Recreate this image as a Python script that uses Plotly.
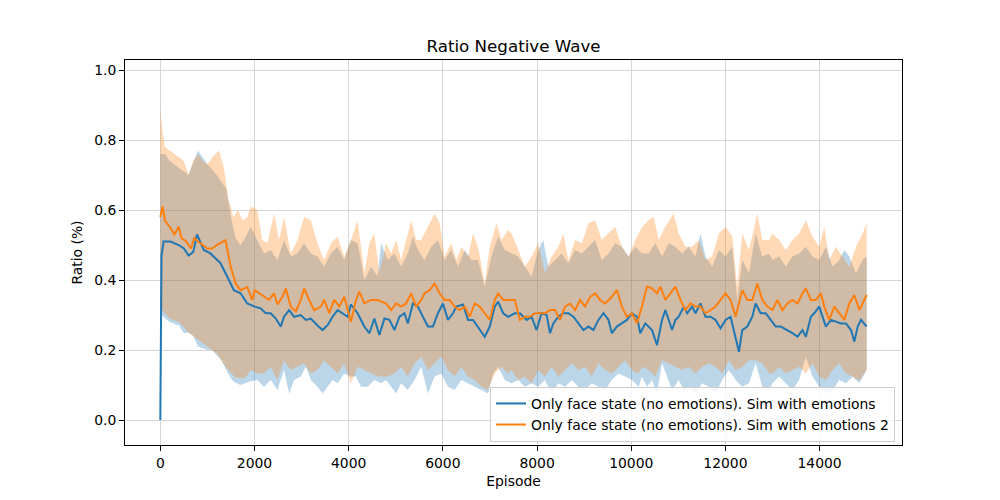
import plotly.graph_objects as go

# Values (episode, ratio)
BLUE_EP = [0, 10, 25, 70, 213, 390, 500, 600, 700, 780, 923, 1065, 1278, 1420, 1562, 1704, 1846,
           2003, 2131, 2238, 2344, 2451, 2557, 2628, 2735, 2841, 2983, 3090, 3196, 3338, 3445, 3551,
           3658, 3764, 3870, 3977, 4048, 4190, 4332, 4439, 4545, 4652, 4759, 4866, 4972, 5079, 5185,
           5256, 5363, 5469, 5576, 5682, 5789, 5895, 6002, 6108, 6215, 6286, 6428, 6534, 6641, 6747,
           6889, 6996, 7102, 7173, 7280, 7386, 7528, 7635, 7778, 7884, 7990, 8097, 8204, 8275, 8346,
           8452, 8559, 8665, 8772, 8878, 8985, 9091, 9198, 9304, 9411, 9517, 9588, 9695, 9801, 9908,
           10014, 10121, 10192, 10298, 10441, 10548, 10654, 10725, 10796, 10867, 10938, 11009, 11116,
           11187, 11293, 11364, 11471, 11577, 11684, 11790, 11897, 12003, 12110, 12216, 12287, 12358,
           12465, 12571, 12642, 12749, 12855, 12962, 13068, 13175, 13318, 13424, 13531, 13637, 13708,
           13815, 13886, 13992, 14063, 14134, 14241, 14347, 14454, 14560, 14667, 14738, 14809, 14880,
           15000]
BLUE_MEAN = [0.0, 0.36, 0.47, 0.51, 0.51, 0.50, 0.49, 0.47, 0.48, 0.53, 0.486, 0.476, 0.448, 0.41,
             0.371, 0.362, 0.333, 0.324, 0.319, 0.305, 0.305, 0.29, 0.267, 0.295, 0.314, 0.295, 0.30,
             0.286, 0.29, 0.27, 0.257, 0.271, 0.295, 0.314, 0.305, 0.295, 0.33, 0.305, 0.267, 0.248,
             0.29, 0.243, 0.29, 0.286, 0.257, 0.295, 0.305, 0.276, 0.333, 0.324, 0.295, 0.267, 0.267,
             0.305, 0.333, 0.286, 0.305, 0.324, 0.33, 0.286, 0.286, 0.267, 0.238, 0.267, 0.324, 0.338,
             0.305, 0.295, 0.305, 0.305, 0.286, 0.295, 0.257, 0.305, 0.30, 0.248, 0.276, 0.295, 0.305,
             0.305, 0.295, 0.276, 0.257, 0.267, 0.257, 0.286, 0.305, 0.286, 0.248, 0.267, 0.276, 0.286,
             0.305, 0.295, 0.248, 0.276, 0.257, 0.214, 0.286, 0.314, 0.286, 0.257, 0.286, 0.295, 0.324,
             0.305, 0.324, 0.305, 0.333, 0.295, 0.295, 0.286, 0.262, 0.286, 0.295, 0.238, 0.195, 0.257,
             0.267, 0.295, 0.333, 0.305, 0.305, 0.286, 0.267, 0.267, 0.257, 0.248, 0.238, 0.257, 0.238,
             0.295, 0.305, 0.324, 0.295, 0.267, 0.286, 0.281, 0.276, 0.276, 0.257, 0.224, 0.267, 0.286,
             0.267]

ORANGE_EP = [0, 50, 100, 200, 300, 390, 450, 550, 650, 720, 800, 900, 1000, 1100, 1200, 1385, 1490,
             1600, 1704, 1846, 1950, 2003, 2096, 2202, 2309, 2415, 2486, 2593, 2664, 2770, 2877, 2983,
             3054, 3161, 3267, 3409, 3480, 3587, 3693, 3800, 3906, 4048, 4155, 4226, 4332, 4474, 4616,
             4795, 4901, 5008, 5114, 5221, 5327, 5434, 5540, 5611, 5718, 5824, 5930, 6037, 6144, 6250,
             6357, 6463, 6570, 6676, 6783, 6889, 6996, 7102, 7173, 7280, 7422, 7528, 7636, 7742, 7849,
             7955, 8062, 8168, 8275, 8381, 8488, 8594, 8701, 8807, 8914, 9020, 9127, 9233, 9340, 9446,
             9588, 9695, 9801, 9908, 10014, 10121, 10227, 10334, 10441, 10548, 10619, 10725, 10831,
             10938, 11045, 11151, 11258, 11364, 11471, 11577, 11684, 11790, 11897, 12003, 12110, 12216,
             12287, 12358, 12465, 12571, 12678, 12784, 12891, 12997, 13104, 13211, 13318, 13424, 13531,
             13637, 13708, 13815, 13921, 14028, 14099, 14205, 14312, 14418, 14525, 14631, 14738, 14844,
             14951, 15000]
ORANGE_MEAN = [0.58, 0.61, 0.57, 0.552, 0.53, 0.552, 0.52, 0.51, 0.49, 0.52, 0.51, 0.50, 0.49, 0.49,
               0.50, 0.514, 0.44, 0.39, 0.371, 0.38, 0.343, 0.371, 0.362, 0.352, 0.343, 0.362, 0.33,
               0.352, 0.376, 0.324, 0.31, 0.343, 0.376, 0.343, 0.314, 0.324, 0.343, 0.305, 0.343, 0.324,
               0.352, 0.281, 0.343, 0.367, 0.333, 0.343, 0.343, 0.333, 0.314, 0.333, 0.324, 0.333, 0.362,
               0.324, 0.343, 0.362, 0.371, 0.39, 0.362, 0.343, 0.343, 0.324, 0.314, 0.324, 0.295, 0.333,
               0.324, 0.305, 0.286, 0.343, 0.362, 0.343, 0.343, 0.343, 0.286, 0.295, 0.295, 0.305, 0.305,
               0.305, 0.314, 0.314, 0.286, 0.324, 0.333, 0.314, 0.343, 0.324, 0.352, 0.362, 0.343, 0.333,
               0.352, 0.371, 0.324, 0.295, 0.305, 0.276, 0.324, 0.381, 0.376, 0.362, 0.381, 0.343, 0.362,
               0.381, 0.343, 0.314, 0.333, 0.324, 0.324, 0.305, 0.314, 0.324, 0.343, 0.362, 0.343, 0.295,
               0.333, 0.371, 0.343, 0.343, 0.39, 0.343, 0.324, 0.314, 0.343, 0.314, 0.333, 0.343, 0.333,
               0.362, 0.376, 0.343, 0.343, 0.362, 0.324, 0.286, 0.324, 0.305, 0.286, 0.333, 0.357, 0.314,
               0.343, 0.357]

# Shaded spread bands
BLUE_UP_EP = [0, 100, 200, 400, 600, 800, 1000, 1200, 1400, 1500, 1600, 1700, 1800, 1918, 2060, 2202,
              2344, 2486, 2628, 2770, 2912, 3054, 3196, 3338, 3480, 3622, 3764, 3906, 4048, 4190, 4332,
              4474, 4616, 4688, 4830, 4972, 5114, 5256, 5363, 5469, 5611, 5753, 5895, 6037, 6179, 6321,
              6463, 6605, 6747, 6889, 7031, 7173, 7315, 7457, 7600, 7742, 7884, 8026, 8133, 8239, 8381,
              8523, 8665, 8807, 8949, 9091, 9233, 9375, 9517, 9659, 9801, 9943, 10085, 10227, 10370,
              10512, 10654, 10796, 10938, 11080, 11222, 11364, 11471, 11577, 11719, 11861, 12003, 12145,
              12252, 12358, 12500, 12642, 12784, 12926, 12998, 13140, 13282, 13424, 13566, 13708, 13850,
              13992, 14134, 14276, 14418, 14525, 14631, 14773, 14915, 15000]
BLUE_UPPER = [0.76, 0.76, 0.74, 0.72, 0.70, 0.77, 0.73, 0.70, 0.66, 0.58, 0.52, 0.50, 0.52, 0.552,
              0.514, 0.476, 0.486, 0.457, 0.514, 0.467, 0.476, 0.505, 0.476, 0.467, 0.438, 0.476, 0.495,
              0.457, 0.514, 0.505, 0.40, 0.438, 0.41, 0.505, 0.457, 0.476, 0.438, 0.476, 0.524, 0.486,
              0.457, 0.495, 0.514, 0.457, 0.486, 0.438, 0.486, 0.457, 0.457, 0.381, 0.467, 0.524, 0.486,
              0.476, 0.467, 0.438, 0.41, 0.486, 0.514, 0.438, 0.457, 0.476, 0.448, 0.486, 0.476, 0.495,
              0.514, 0.457, 0.476, 0.505, 0.495, 0.467, 0.495, 0.476, 0.476, 0.505, 0.467, 0.505, 0.495,
              0.476, 0.495, 0.467, 0.533, 0.467, 0.438, 0.486, 0.467, 0.495, 0.343, 0.457, 0.419, 0.533,
              0.467, 0.476, 0.457, 0.467, 0.438, 0.467, 0.476, 0.495, 0.467, 0.457, 0.495, 0.438, 0.457,
              0.486, 0.467, 0.419, 0.457, 0.467]

BLUE_LO_EP = [0, 100, 200, 400, 500, 600, 700, 800, 1000, 1100, 1300, 1450, 1550, 1700, 1900, 2060,
              2202, 2344, 2486, 2628, 2735, 2841, 2983, 3090, 3196, 3338, 3445, 3551, 3658, 3764, 3906,
              4048, 4155, 4261, 4403, 4545, 4687, 4795, 4901, 5008, 5114, 5256, 5398, 5540, 5682, 5824,
              5966, 6108, 6250, 6392, 6534, 6676, 6818, 6960, 7067, 7173, 7315, 7457, 7600, 7742, 7884,
              8026, 8168, 8310, 8452, 8594, 8736, 8878, 9020, 9162, 9304, 9446, 9588, 9730, 9872, 10014,
              10156, 10228, 10335, 10441, 10548, 10654, 10761, 10867, 11009, 11116, 11222, 11364, 11506,
              11648, 11790, 11932, 12074, 12216, 12358, 12500, 12642, 12784, 12926, 12998, 13140, 13282,
              13424, 13566, 13708, 13850, 13992, 14134, 14276, 14418, 14560, 14702, 14844, 15000]
BLUE_LOWER = [0.305, 0.29, 0.28, 0.27, 0.248, 0.25, 0.24, 0.21, 0.20, 0.20, 0.17, 0.13, 0.11, 0.10,
              0.11, 0.114, 0.095, 0.114, 0.086, 0.143, 0.076, 0.114, 0.124, 0.152, 0.114, 0.095, 0.076,
              0.095, 0.114, 0.105, 0.133, 0.124, 0.124, 0.095, 0.095, 0.114, 0.105, 0.114, 0.095, 0.076,
              0.105, 0.086, 0.114, 0.152, 0.076, 0.124, 0.133, 0.095, 0.086, 0.114, 0.105, 0.095, 0.086,
              0.076, 0.133, 0.152, 0.114, 0.105, 0.114, 0.095, 0.105, 0.095, 0.114, 0.076, 0.105, 0.095,
              0.114, 0.095, 0.086, 0.105, 0.095, 0.086, 0.114, 0.133, 0.124, 0.114, 0.095, 0.124, 0.095,
              0.114, 0.076, 0.162, 0.124, 0.086, 0.114, 0.086, 0.095, 0.076, 0.105, 0.095, 0.076, 0.114,
              0.143, 0.114, 0.095, 0.105, 0.162, 0.095, 0.086, 0.105, 0.124, 0.105, 0.086, 0.114, 0.181,
              0.124, 0.095, 0.076, 0.086, 0.114, 0.105, 0.124, 0.105, 0.143]

ORANGE_UP_EP = [0, 50, 100, 200, 300, 400, 500, 600, 700, 800, 900, 1000, 1100, 1250, 1350, 1450,
                1550, 1650, 1750, 1850, 1918, 2060, 2167, 2273, 2415, 2522, 2628, 2770, 2912, 3054, 3196,
                3338, 3480, 3622, 3764, 3906, 4048, 4190, 4332, 4439, 4545, 4652, 4795, 4901, 5008, 5114,
                5221, 5327, 5434, 5540, 5682, 5824, 5931, 6037, 6179, 6286, 6392, 6534, 6641, 6747, 6889,
                6996, 7138, 7244, 7386, 7458, 7600, 7742, 7884, 8026, 8168, 8310, 8452, 8559, 8665, 8807,
                8949, 9091, 9233, 9375, 9517, 9659, 9801, 9943, 10085, 10227, 10370, 10477, 10583, 10725,
                10903, 11009, 11151, 11293, 11435, 11577, 11719, 11861, 12003, 12145, 12252, 12358, 12500,
                12678, 12784, 12926, 12998, 13140, 13282, 13424, 13566, 13708, 13850, 13992, 14099, 14205,
                14347, 14489, 14631, 14773, 14915, 15000]
ORANGE_UPPER = [0.89, 0.82, 0.78, 0.77, 0.76, 0.75, 0.74, 0.70, 0.74, 0.76, 0.74, 0.73, 0.75, 0.77,
                0.72, 0.63, 0.58, 0.60, 0.57, 0.58, 0.61, 0.60, 0.514, 0.505, 0.59, 0.514, 0.581, 0.476,
                0.514, 0.581, 0.571, 0.505, 0.457, 0.505, 0.524, 0.467, 0.514, 0.571, 0.419, 0.505, 0.533,
                0.419, 0.505, 0.476, 0.514, 0.457, 0.514, 0.571, 0.514, 0.514, 0.552, 0.59, 0.562, 0.467,
                0.505, 0.457, 0.495, 0.467, 0.533, 0.495, 0.39, 0.495, 0.562, 0.514, 0.543, 0.533, 0.486,
                0.438, 0.467, 0.505, 0.419, 0.467, 0.495, 0.533, 0.457, 0.514, 0.505, 0.562, 0.571, 0.514,
                0.533, 0.552, 0.495, 0.467, 0.514, 0.55, 0.571, 0.581, 0.514, 0.552, 0.59, 0.533, 0.495,
                0.495, 0.514, 0.457, 0.467, 0.533, 0.552, 0.524, 0.381, 0.533, 0.486, 0.59, 0.514, 0.514,
                0.533, 0.514, 0.486, 0.514, 0.533, 0.571, 0.524, 0.495, 0.552, 0.457, 0.495, 0.467, 0.438,
                0.495, 0.533, 0.562]

ORANGE_LO_EP = [0, 200, 400, 600, 800, 1000, 1200, 1400, 1600, 1800, 1918, 2060, 2202, 2344, 2486,
                2628, 2770, 2912, 3054, 3196, 3338, 3480, 3622, 3764, 3906, 4048, 4190, 4332, 4474, 4616,
                4830, 4972, 5114, 5256, 5398, 5540, 5682, 5824, 5966, 6108, 6250, 6392, 6534, 6676, 6818,
                6960, 7102, 7244, 7386, 7458, 7600, 7742, 7884, 8026, 8168, 8310, 8452, 8594, 8736, 8878,
                9020, 9162, 9304, 9446, 9588, 9730, 9872, 10014, 10156, 10228, 10370, 10512, 10654, 10796,
                10938, 11080, 11222, 11364, 11506, 11648, 11790, 11932, 12074, 12216, 12358, 12500, 12642,
                12784, 12926, 12998, 13140, 13282, 13424, 13566, 13708, 13850, 13992, 14134, 14276, 14418,
                14560, 14702, 14844, 15000]
ORANGE_LOWER = [0.32, 0.29, 0.28, 0.25, 0.23, 0.21, 0.19, 0.15, 0.12, 0.12, 0.143, 0.133, 0.133, 0.152,
                0.114, 0.171, 0.143, 0.152, 0.162, 0.133, 0.143, 0.171, 0.152, 0.133, 0.162, 0.105, 0.152,
                0.143, 0.133, 0.124, 0.124, 0.133, 0.152, 0.124, 0.162, 0.181, 0.143, 0.162, 0.181, 0.143,
                0.124, 0.152, 0.124, 0.114, 0.095, 0.086, 0.133, 0.152, 0.133, 0.143, 0.114, 0.124, 0.105,
                0.143, 0.124, 0.152, 0.124, 0.143, 0.162, 0.143, 0.152, 0.124, 0.162, 0.143, 0.133, 0.152,
                0.171, 0.143, 0.133, 0.152, 0.143, 0.124, 0.171, 0.162, 0.152, 0.143, 0.152, 0.133, 0.152,
                0.162, 0.152, 0.133, 0.171, 0.143, 0.152, 0.171, 0.171, 0.162, 0.133, 0.133, 0.152, 0.133,
                0.143, 0.152, 0.133, 0.162, 0.124, 0.114, 0.143, 0.162, 0.133, 0.124, 0.114, 0.143]

SERIES_NAMES = ["Only face state (no emotions). Sim with emotions",
                "Only face state (no emotions). Sim with emotions 2"]
X_TICKS = [0, 2000, 4000, 6000, 8000, 10000, 12000, 14000]
Y_TICKS = [0.0, 0.2, 0.4, 0.6, 0.8, 1.0]

BLUE = "#1f77b4"
ORANGE = "#ff7f0e"
FONT = "DejaVu Sans"
FS = 13.9  # 10pt at 100 dpi

fig = go.Figure()

# spread bands as closed polygons: upper edge forward, lower edge back
for up_x, up_y, lo_x, lo_y, fillc in [
    (BLUE_UP_EP, BLUE_UPPER, BLUE_LO_EP, BLUE_LOWER, "rgba(31,119,180,0.3)"),
    (ORANGE_UP_EP, ORANGE_UPPER, ORANGE_LO_EP, ORANGE_LOWER, "rgba(255,127,14,0.3)"),
]:
    fig.add_trace(go.Scatter(
        x=up_x + lo_x[::-1], y=up_y + lo_y[::-1],
        fill="toself", fillcolor=fillc, line=dict(width=0),
        mode="lines", showlegend=False, hoverinfo="skip",
    ))

fig.add_trace(go.Scatter(x=BLUE_EP, y=BLUE_MEAN, mode="lines", name=SERIES_NAMES[0],
                         line=dict(color=BLUE, width=2)))
fig.add_trace(go.Scatter(x=ORANGE_EP, y=ORANGE_MEAN, mode="lines", name=SERIES_NAMES[1],
                         line=dict(color=ORANGE, width=2)))

axis_common = dict(
    showline=True, linecolor="black", linewidth=1, mirror=True,
    ticks="outside", ticklen=5, tickcolor="black",
    showgrid=True, gridcolor="#d6d6d6", gridwidth=1, zeroline=False,
    tickfont=dict(family=FONT, size=FS, color="black"),
)

fig.update_xaxes(range=[-750, 15750], tickvals=X_TICKS, tickformat="d",
                 title=dict(text="Episode", font=dict(family=FONT, size=FS, color="black"), standoff=6),
                 **axis_common)
fig.update_yaxes(range=[-0.0714, 1.0286], tickvals=Y_TICKS, tickformat=".1f",
                 title=dict(text="Ratio (%)", font=dict(family=FONT, size=FS, color="black"), standoff=8),
                 **axis_common)

# page body adds ~8px offset, so margins are shifted to land the axes where the reference has them
fig.update_layout(
    width=1000, height=500,
    margin=dict(l=117, r=106, t=52, b=63),
    paper_bgcolor="white", plot_bgcolor="white",
    font=dict(family=FONT, size=FS, color="black"),
    title=dict(text="Ratio Negative Wave", x=0.5, xref="paper", y=0.924, yanchor="middle",
               font=dict(family=FONT, size=16.7, color="black")),
    legend=dict(x=0.991, y=0.008, xanchor="right", yanchor="bottom",
                bgcolor="rgba(255,255,255,0.8)", bordercolor="#cccccc", borderwidth=1,
                font=dict(family=FONT, size=FS, color="black"), itemwidth=30,
                tracegroupgap=0),
)

fig.write_html("out.html")
